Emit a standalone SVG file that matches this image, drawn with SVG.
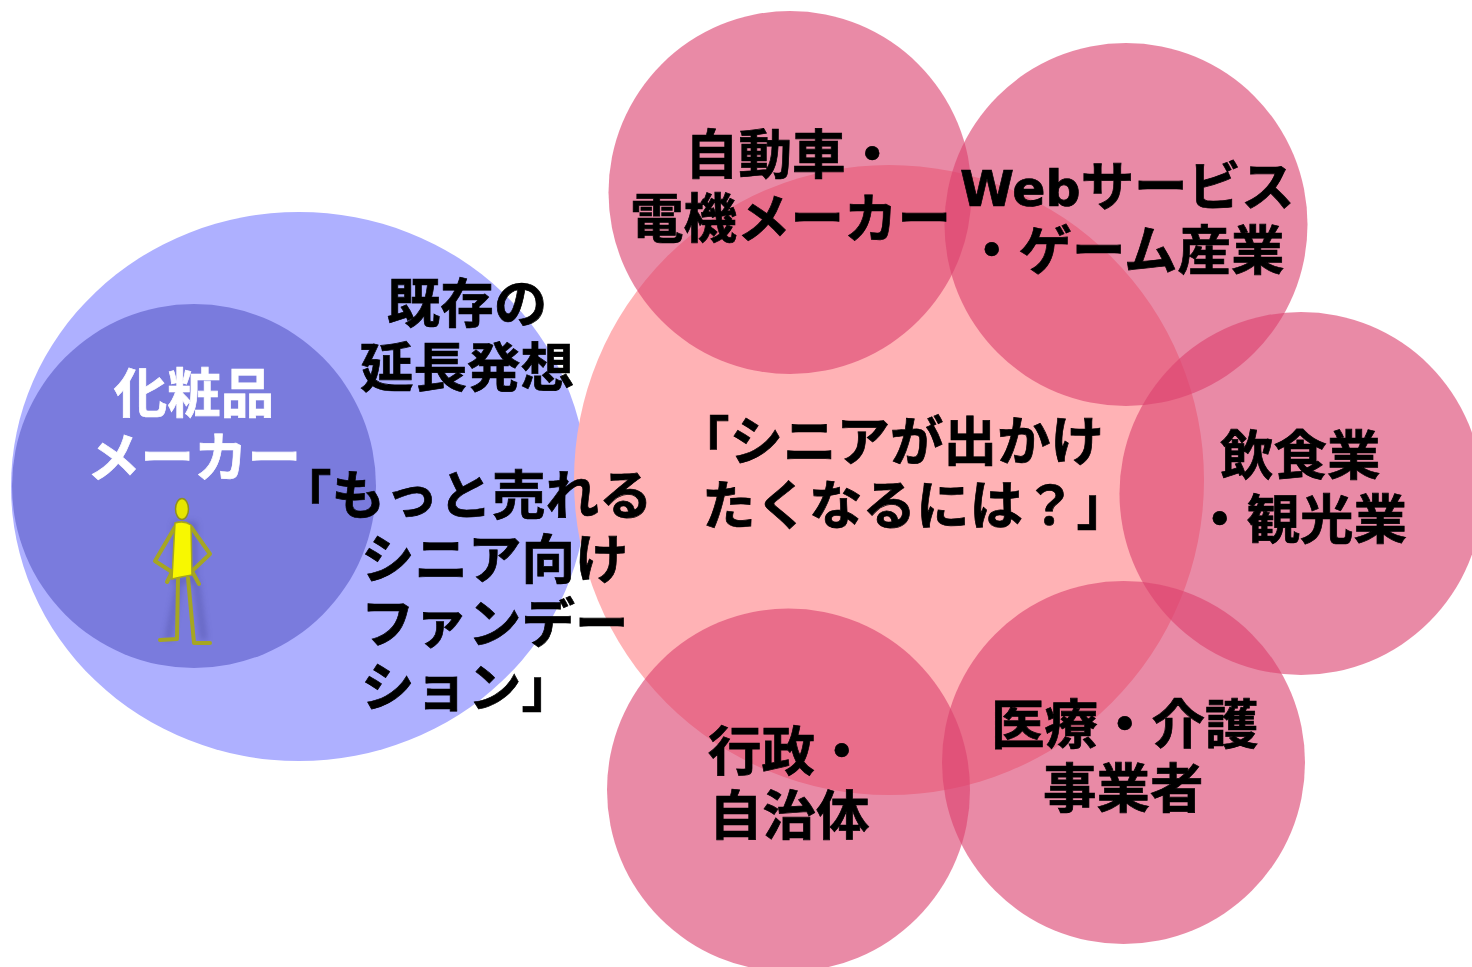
<svg xmlns="http://www.w3.org/2000/svg" width="1472" height="967" viewBox="0 0 1472 967">
<defs>
<filter id="soft" x="-30%" y="-30%" width="160%" height="160%"><feGaussianBlur stdDeviation="3"/></filter>
</defs>
<style>
.t{font-family:"Noto Sans CJK JP","DejaVu Sans",sans-serif;font-weight:700;font-size:53.500px;fill:#000;stroke:#000;stroke-width:.7px}
.w{fill:#fff;stroke:#fff}
.l{font-family:"DejaVu Sans",sans-serif;font-size:49px}
.p{fill:#dc426f;fill-opacity:.62}
.limb{fill:none;stroke:#a6a622;stroke-width:4;stroke-linecap:round;stroke-linejoin:round}
</style>
<rect width="1472" height="967" fill="#fff"/>
<g id="existing"><ellipse cx="299" cy="486.500" rx="288" ry="274.500" fill="#aeb0ff"/></g>
<g id="senior"><circle cx="889" cy="480" r="315" fill="#ffb2b5"/></g>
<g id="cosmetics"><circle cx="194" cy="486" r="182" fill="#7a7bdd"/>
<text class="t w" x="194" y="413" text-anchor="middle">化粧品</text>
<text class="t w" x="194" y="477" text-anchor="middle">メーカー</text>
<g id="figure">
<path d="M176 525H194V580H176ZM168 640L180 580M196 580L204 640" fill="none" stroke="#3c3c88" stroke-width="6" opacity=".35" filter="url(#soft)"/>
<path class="limb" d="M175 527L155 561L172 572L167 582M191 527L210 554L192 571L199 584"/>
<path class="limb" d="M178 578L177 639L160 640M188 578L194 643L210 643"/>
<ellipse cx="182" cy="509" rx="6.500" ry="10.500" fill="#e6e600" stroke="#8f8f1e" stroke-width="1.500"/>
<path d="M175 523Q184 520 191 525L192 575L181 577L172 579Z" fill="#f8f800" stroke="#a5a51e" stroke-width="1.500"/>
</g></g>
<g id="auto"><circle class="p" cx="790" cy="192.500" r="181.500"/></g>
<g id="web"><circle class="p" cx="1126" cy="224.500" r="181.500"/></g>
<g id="food"><circle class="p" cx="1301" cy="493.500" r="181.500"/></g>
<g id="medical"><circle class="p" cx="1123.500" cy="762.500" r="181.500"/></g>
<g id="gov"><circle class="p" cx="788.500" cy="790" r="181.500"/></g>
<g id="labels">
<text class="t" x="467" y="323" text-anchor="middle">既存の</text>
<text class="t" x="467" y="387" text-anchor="middle">延長発想</text>
<text class="t" x="278" y="515">「もっと売れる</text>
<text class="t" x="361" y="579">シニア向け</text>
<text class="t" x="361" y="643">ファンデー</text>
<text class="t" x="361" y="707">ション」</text>
<text class="t" x="676" y="461">「シニアが出かけ</text>
<text class="t" x="702" y="525">たくなるには？」</text>
<text class="t" x="685" y="174">自動車・</text>
<text class="t" x="630" y="238">電機メーカー</text>
<text class="t" x="960" y="206"><tspan class="l">Web</tspan>サービス</text>
<text class="t" x="965" y="270">・ゲーム産業</text>
<text class="t" x="1220" y="475">飲食業</text>
<text class="t" x="1193" y="539">・観光業</text>
<text class="t" x="991" y="744">医療・介護</text>
<text class="t" x="1043" y="808">事業者</text>
<text class="t" x="708" y="771">行政・</text>
<text class="t" x="709" y="835">自治体</text>
</g>
</svg>
